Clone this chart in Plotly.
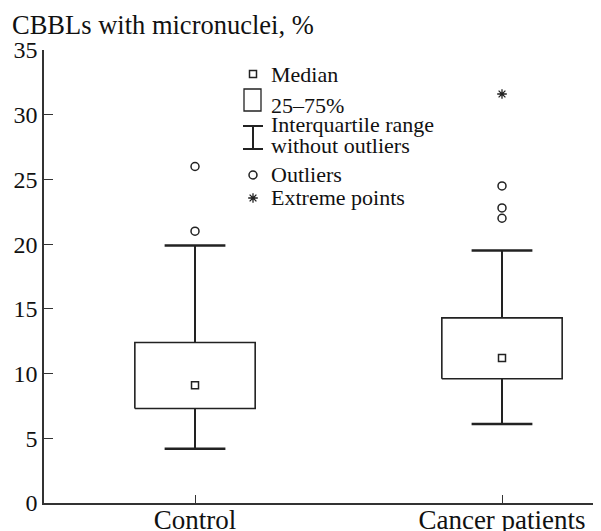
import plotly.graph_objects as go

# ---- data ----
categories = ["Control", "Cancer patients"]
q1 = [7.3, 9.6]
q3 = [12.4, 14.3]
medians = [9.1, 11.2]
lower_whisker = [4.2, 6.1]
upper_whisker = [19.9, 19.5]
outliers_control = [26.0, 21.0]
outliers_cancer = [24.5, 22.8, 22.0]
extreme_cancer = [31.6]
y_ticks = [0, 5, 10, 15, 20, 25, 30, 35]

FONT = "Liberation Serif"
INK = "#222222"
TXT = "#111111"
BOX_HALF = 0.196   # half box width in category units (style)
CAP_HALF = 0.099   # half whisker-cap width (style)
xpos = list(range(len(categories)))

fig = go.Figure()

# boxes (25-75%) built from q1/q3 through the data axes
for i in range(len(categories)):
    c = xpos[i]
    fig.add_trace(go.Scatter(
        x=[c - BOX_HALF, c + BOX_HALF, c + BOX_HALF, c - BOX_HALF, c - BOX_HALF],
        y=[q1[i], q1[i], q3[i], q3[i], q1[i]],
        mode="lines", fill="toself", fillcolor="white",
        line=dict(color=INK, width=1.6), showlegend=False, hoverinfo="skip"))

# whisker stems
wx, wy = [], []
for i in range(len(categories)):
    c = xpos[i]
    wx += [c, c, None, c, c, None]
    wy += [q3[i], upper_whisker[i], None, q1[i], lower_whisker[i], None]
fig.add_trace(go.Scatter(x=wx, y=wy, mode="lines", line=dict(color=INK, width=2),
                         showlegend=False, hoverinfo="skip"))

# whisker caps
cx, cy = [], []
for i in range(len(categories)):
    c = xpos[i]
    cx += [c - CAP_HALF, c + CAP_HALF, None, c - CAP_HALF, c + CAP_HALF, None]
    cy += [upper_whisker[i], upper_whisker[i], None, lower_whisker[i], lower_whisker[i], None]
fig.add_trace(go.Scatter(x=cx, y=cy, mode="lines", line=dict(color=INK, width=2.5),
                         showlegend=False, hoverinfo="skip"))

# medians
fig.add_trace(go.Scatter(
    x=xpos, y=medians, mode="markers",
    marker=dict(symbol="square-open", size=7, color=INK, line=dict(width=1.5)),
    showlegend=False, hoverinfo="skip"))

# outliers
ox = [xpos[0]] * len(outliers_control) + [xpos[1]] * len(outliers_cancer)
oy = outliers_control + outliers_cancer
fig.add_trace(go.Scatter(
    x=ox, y=oy, mode="markers",
    marker=dict(symbol="circle-open", size=8, color=INK, line=dict(width=1.5)),
    showlegend=False, hoverinfo="skip"))

# extreme points
fig.add_trace(go.Scatter(
    x=[xpos[1]] * len(extreme_cancer), y=extreme_cancer, mode="markers",
    marker=dict(symbol="asterisk-open", size=8, color=INK, line=dict(width=1.3, color=INK)),
    showlegend=False, hoverinfo="skip"))

# ---- custom legend (screen-pixel layout converted to paper coords) ----
L, T, W, H = 44, 50, 557, 453      # plot area on screen
PAGE = 8                            # default page margin of the html body
def px(x):
    return (x - L) / W
def py(y):
    return (T + H - y) / H

fig.add_trace(go.Scatter(
    x=[253], y=[74], mode="markers", xaxis="x2", yaxis="y2",
    marker=dict(symbol="square-open", size=7, color=INK, line=dict(width=1.5)),
    showlegend=False, hoverinfo="skip"))
fig.add_trace(go.Scatter(
    x=[253], y=[175], mode="markers", xaxis="x2", yaxis="y2",
    marker=dict(symbol="circle-open", size=8, color=INK, line=dict(width=1.5)),
    showlegend=False, hoverinfo="skip"))
fig.add_trace(go.Scatter(
    x=[253], y=[198], mode="markers", xaxis="x2", yaxis="y2",
    marker=dict(symbol="asterisk-open", size=8, color=INK, line=dict(width=1.3, color=INK)),
    showlegend=False, hoverinfo="skip"))

shapes = [
    dict(type="rect", xref="paper", yref="paper", x0=px(244), x1=px(261), y0=py(89), y1=py(111),
         line=dict(color=INK, width=1.3)),
    dict(type="line", xref="paper", yref="paper", x0=px(243), x1=px(263), y0=py(126), y1=py(126),
         line=dict(color=INK, width=2)),
    dict(type="line", xref="paper", yref="paper", x0=px(243), x1=px(263), y0=py(149), y1=py(149),
         line=dict(color=INK, width=2)),
    dict(type="line", xref="paper", yref="paper", x0=px(253), x1=px(253), y0=py(126), y1=py(149),
         line=dict(color=INK, width=2)),
]

legend_texts = [
    ("Median", 74), ("25–75%", 106), ("Interquartile range", 125),
    ("without outliers", 145), ("Outliers", 174.5), ("Extreme points", 197),
]
annotations = []
for txt, yy in legend_texts:
    annotations.append(dict(
        text=txt, xref="paper", yref="paper", x=px(269), y=py(yy),
        xanchor="left", yanchor="middle", showarrow=False,
        font=dict(family=FONT, size=22, color=TXT)))

annotations.append(dict(
    text="CBBLs with micronuclei, %", xref="paper", yref="paper",
    x=px(10), y=py(8), xanchor="left", yanchor="top", showarrow=False,
    font=dict(family=FONT, size=26.5, color=TXT)))

FIG_W, FIG_H = 601 - PAGE, 531 - PAGE
fig.update_layout(
    width=FIG_W, height=FIG_H,
    margin=dict(l=L - PAGE, r=0, t=T - PAGE, b=FIG_H - (T + H - PAGE), pad=0),
    paper_bgcolor="white", plot_bgcolor="white",
    font=dict(family=FONT, size=24, color=TXT),
    showlegend=False,
    shapes=shapes, annotations=annotations,
    xaxis=dict(
        range=[-0.4919, 1.3225], tickmode="array", tickvals=xpos, ticktext=categories,
        ticks="inside", ticklen=8, tickwidth=1.3, tickcolor="#333",
        showline=True, linecolor="#333", linewidth=1.5,
        showgrid=False, zeroline=False, fixedrange=True, automargin=False,
        ticklabelstandoff=-8,
        tickfont=dict(family=FONT, size=27, color=TXT),
    ),
    yaxis=dict(
        range=[0, 35], tickmode="array", tickvals=y_ticks,
        ticks="inside", ticklen=9, tickwidth=1.3, tickcolor="#333",
        showline=True, linecolor="#333", linewidth=1.5,
        showgrid=False, zeroline=False, fixedrange=True, automargin=False,
        tickfont=dict(family=FONT, size=24, color=TXT),
    ),
    xaxis2=dict(overlaying="x", range=[L, L + W], visible=False, fixedrange=True),
    yaxis2=dict(overlaying="y", range=[T + H, T], visible=False, fixedrange=True),
)

fig.write_html("out.html", config={"displayModeBar": False})
